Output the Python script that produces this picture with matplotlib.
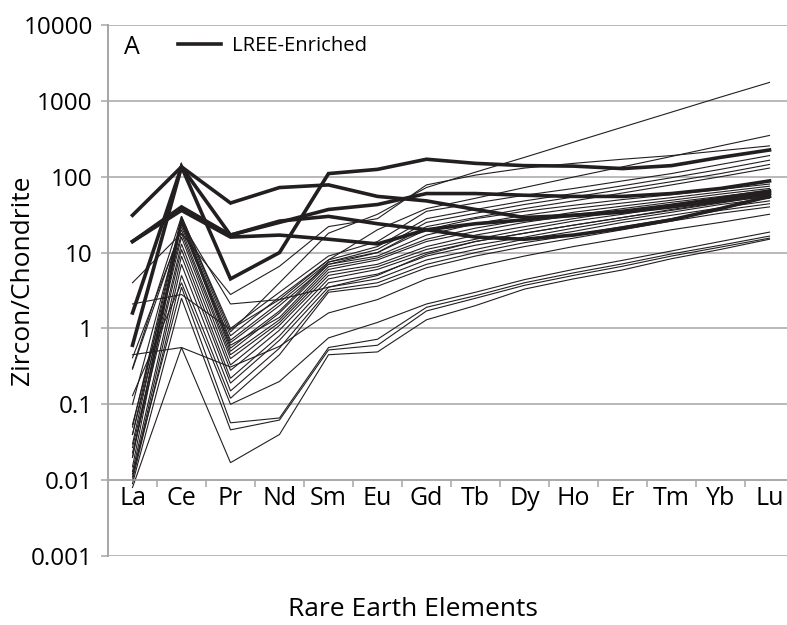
import matplotlib
matplotlib.use("Agg")
import matplotlib.pyplot as plt
from matplotlib.lines import Line2D
from matplotlib.ticker import FixedLocator, FixedFormatter, NullFormatter

plt.rcParams['font.family'] = ['Open Sans', 'DejaVu Sans']

elements = ['La', 'Ce', 'Pr', 'Nd', 'Sm', 'Eu', 'Gd', 'Tb', 'Dy', 'Ho', 'Er', 'Tm', 'Yb', 'Lu']
ytick_vals = [0.001, 0.01, 0.1, 1, 10, 100, 1000, 10000]
ytick_labels = ['0.001', '0.01', '0.1', '1', '10', '100', '1000', '10000']

# thin lines: individual zircon analyses (La ... Lu)
thin_series = [
    [0.05, 30, 0.9, 4, 18, 32, 72, 115, 180, 285, 450, 710, 1120, 1750],
    [0.1, 25, 2.1, 2.4, 8, 20, 38, 52, 72, 99, 135, 185, 255, 350],
    [4, 18, 2.8, 6.6, 22, 28, 78, 105, 130, 150, 170, 190, 220, 255],
    [0.3, 30, 1.0, 3.0, 9, 14, 35, 45, 57, 70, 88, 110, 145, 190],
    [0.04, 28, 0.8, 2.6, 8, 12, 28, 37, 48, 60, 76, 97, 125, 165],
    [0.02, 26, 0.7, 2.2, 7.5, 11, 25, 33, 43, 54, 68, 86, 110, 145],
    [0.015, 24, 0.65, 2.0, 7, 10, 22, 29, 38, 48, 61, 78, 100, 130],
    [0.02, 28, 0.55, 1.7, 7.5, 10, 20, 28, 35, 42, 50, 58, 68, 80],
    [0.03, 25, 0.5, 1.6, 7, 9, 17, 24, 31, 38, 45, 53, 63, 75],
    [0.29, 22, 0.6, 1.4, 6.5, 8.5, 15, 21, 27, 34, 41, 49, 59, 70],
    [0.41, 20, 0.45, 1.3, 6, 8, 14, 19, 25, 31, 38, 46, 55, 66],
    [0.054, 18, 0.4, 1.2, 5.5, 7, 12, 17, 22, 28, 35, 43, 52, 62],
    [0.04, 16, 0.33, 1.1, 5, 6.5, 11, 15, 20, 26, 32, 40, 49, 58],
    [0.027, 13, 0.28, 0.95, 4.5, 6, 10, 14, 18, 23, 29, 37, 46, 55],
    [0.023, 11, 0.22, 0.8, 4, 5.2, 9, 12.5, 16, 21, 27, 34, 43, 52],
    [0.013, 9, 0.19, 0.7, 3.5, 4.5, 8, 11, 15, 19, 25, 31, 39, 48],
    [0.011, 7, 0.15, 0.55, 3.2, 4, 7, 10, 13.5, 17, 22, 28, 36, 44],
    [0.01, 5, 0.12, 0.45, 3, 3.6, 6.3, 9, 12, 15.5, 20, 26, 33, 40],
    [0.45, 0.56, 0.31, 0.58, 1.6, 2.4, 4.5, 6.5, 9, 12, 15.5, 20, 25, 32],
    [2.1, 2.8, 0.97, 2.4, 3.5, 5, 9.5, 14, 18, 23, 29, 36, 45, 57],
    [0.008, 0.56, 0.017, 0.04, 0.45, 0.49, 1.3, 2.0, 3.3, 4.5, 5.9, 8.3, 11, 15],
    [0.009, 2.5, 0.046, 0.062, 0.52, 0.6, 1.7, 2.5, 3.7, 5.0, 6.6, 9.0, 11.8, 15.5],
    [0.012, 3.5, 0.057, 0.066, 0.56, 0.72, 1.9, 2.7, 4.0, 5.4, 7.1, 9.6, 12.5, 16.5],
    [0.13, 4, 0.1, 0.2, 0.75, 1.2, 2.1, 3.0, 4.4, 6.0, 7.9, 10.5, 14, 18.6],
]

# thick lines: LREE-enriched grains
lree_series = [
    [1.6, 135, 4.5, 10, 110, 125, 170, 150, 140, 138, 128, 140, 180, 225],
    [31, 135, 45, 72, 78, 55, 48, 37, 29, 31, 34, 40, 48, 60],
    [14, 40, 17, 25, 37, 43, 60, 60, 57, 55, 55, 60, 70, 88],
    [14, 36, 16, 17, 15, 13, 20, 24, 27, 31, 35, 42, 52, 65],
    [0.6, 135, 17, 26, 30, 24, 20, 16, 15, 17, 21, 27, 38, 55],
]

W, H = 787, 625
fig = plt.figure(figsize=(W / 100, H / 100), dpi=100)
ax = fig.add_axes([108 / W, (H - 556) / H, 686 / W, (556 - 25) / H])

x = list(range(len(elements)))
line_color = '#231f20'
for s in thin_series:
    ax.plot(x, s, color=line_color, lw=0.8, solid_joinstyle='miter')
for s in lree_series:
    ax.plot(x, s, color=line_color, lw=2.6, solid_joinstyle='miter')

ax.set_yscale('log')
ax.set_ylim(0.001, 10000)
ax.set_xlim(-0.5, 13.5)

grid_color = '#a6a6a6'
ax.yaxis.set_major_locator(FixedLocator(ytick_vals))
ax.yaxis.set_major_formatter(FixedFormatter(ytick_labels))
ax.yaxis.set_minor_formatter(NullFormatter())
ax.yaxis.set_minor_locator(FixedLocator([]))
ax.yaxis.grid(True, color=grid_color, lw=1.1)
ax.set_axisbelow(True)
ax.tick_params(axis='y', which='major', direction='out', length=5, width=1.1,
               color=grid_color, labelsize=17.5, pad=6, labelcolor='black')

# category axis crosses the value axis at 0.01
ax.spines['bottom'].set_position(('data', 0.01))
ax.spines['bottom'].set_color(grid_color)
ax.spines['bottom'].set_linewidth(1.1)
ax.spines['left'].set_color(grid_color)
ax.spines['left'].set_linewidth(1.4)
ax.spines['top'].set_visible(False)
ax.spines['right'].set_visible(False)

ax.set_xticks(x)
ax.set_xticklabels(elements)
ax.set_xticks([i + 0.5 for i in x[:-1]], minor=True)
ax.tick_params(axis='x', which='major', length=0, labelsize=18, pad=4)
ax.tick_params(axis='x', which='minor', direction='out', length=5, width=1.1, color=grid_color)

fig.text(413 / W, 1 - 610 / H, 'Rare Earth Elements', ha='center', va='center', fontsize=19)
fig.text(23 / W, 1 - 280 / H, 'Zircon/Chondrite', ha='center', va='center',
         rotation=90, fontsize=19)

fig.text(124 / W, 1 - 47 / H, 'A', ha='left', va='center', fontsize=18)
handle = Line2D([], [], color=line_color, lw=2.6)
ax.legend([handle], ['LREE-Enriched'], loc='center left',
          bbox_to_anchor=(178 / W, 1 - 46 / H), bbox_transform=fig.transFigure,
          frameon=False, fontsize=14.6, handlelength=2.1, handletextpad=0.55,
          borderpad=0, borderaxespad=0)

fig.savefig('out.png', dpi=100)
